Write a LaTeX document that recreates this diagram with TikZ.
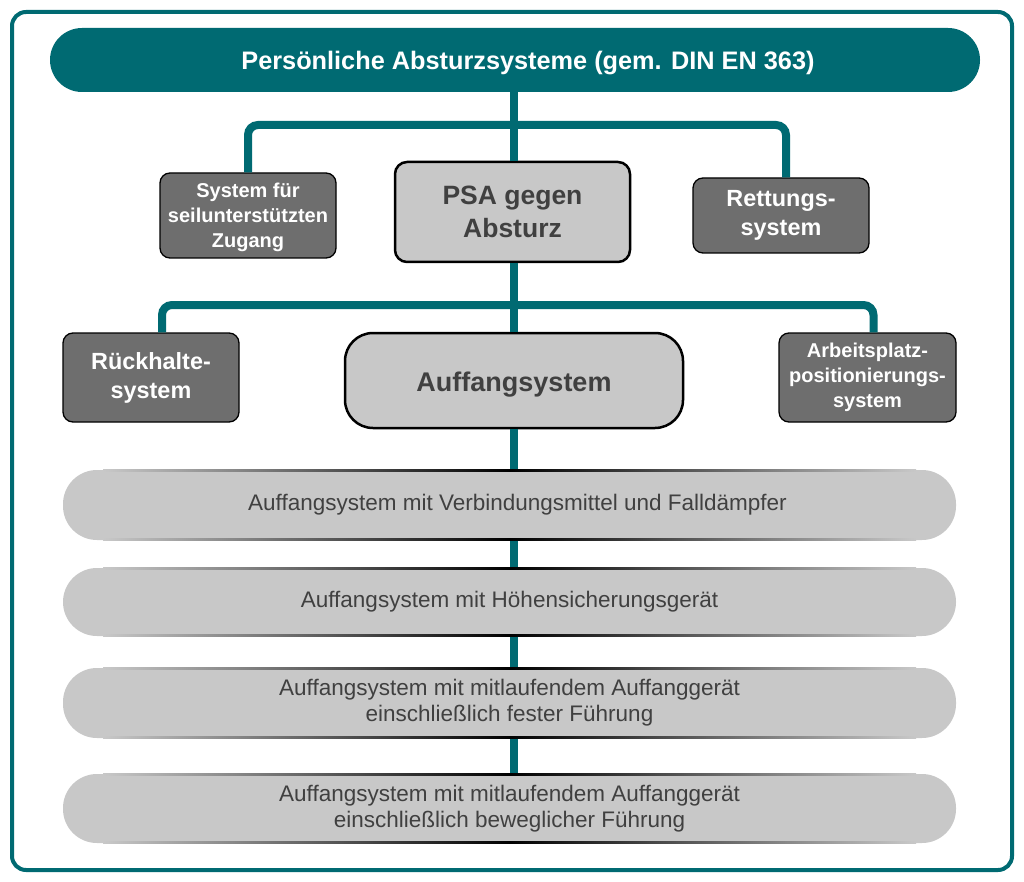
\documentclass[tikz,border=0pt]{standalone}
\usepackage{fontspec}
\setmainfont{Liberation Sans}
\definecolor{teal}{HTML}{006A72}
\definecolor{dgray}{HTML}{6E6E6E}
\definecolor{lgray}{HTML}{C8C8C8}
\definecolor{tgray}{HTML}{404040}
\tikzset{
  conn/.style={draw=teal, line width=8pt, rounded corners=10pt},
  darkbox/.style={draw=black, line width=1.3pt, fill=dgray, rounded corners=10pt, text=white, font=\fontsize{20}{25}\selectfont\bfseries, align=center, inner sep=0pt},
  mainbox/.style={draw=black, line width=2.5pt, fill=lgray, text=tgray, font=\fontsize{26.5}{33}\selectfont\bfseries, align=center, inner sep=0pt},
  pill/.style={fill=lgray, rounded corners=34pt, text=tgray, font=\fontsize{22.5}{26}\selectfont, align=center, inner sep=0pt},
}
\newcommand{\pilledge}[3]{%
  \shade[left color=lgray, right color=lgray, middle color=black] (#1+40,#2-0.9) rectangle (#3-40,#2+0.9);}
\begin{document}
\begin{tikzpicture}[x=1pt,y=-1pt]
\useasboundingbox (0,0) rectangle (1024,882);
\fill[white] (0,0) rectangle (1024,882);
% outer frame
\draw[teal, line width=4pt, rounded corners=14pt] (12,12) rectangle (1012,870);
% top bar
\node[fill=teal, rounded corners=32pt, minimum width=930pt, minimum height=64pt, inner sep=0pt] (top) at (515,60) {};
\node[text=white, font=\fontsize{25.3}{30}\selectfont\bfseries, inner sep=0pt] (title) at (528,63) {Persönliche Absturzsysteme (gem. DIN EN 363)};
% boxes
\node[darkbox, minimum width=176pt, minimum height=85pt] (seil) at (248,215.5) {\raisebox{-2pt}[\height][\depth]{\begin{tabular}{@{}c@{}}System für\\seilunterstützten\\Zugang\end{tabular}}};
\node[mainbox, rounded corners=12pt, minimum width=235pt, minimum height=100pt] (psa) at (512.5,212) {PSA gegen\\Absturz};
\node[darkbox, font=\fontsize{23.4}{29}\selectfont\bfseries, minimum width=176pt, minimum height=75pt] (rett) at (781,215.5) {Rettungs-\\system};
\node[darkbox, font=\fontsize{23.4}{29}\selectfont\bfseries, minimum width=176pt, minimum height=89pt] (rueck) at (151,377.5) {Rückhalte-\\system};
\node[mainbox, rounded corners=28pt, minimum width=338pt, minimum height=95pt, font=\fontsize{27}{33}\selectfont\bfseries] (auff) at (514,380.5) {\raisebox{-4pt}[\height][\depth]{Auffangsystem}};
\node[darkbox, minimum width=177pt, minimum height=89pt] (arb) at (867.5,377.5) {Arbeitsplatz-\\positionierungs-\\system};
% pills
\node[pill, minimum width=893pt, minimum height=70pt] (p1) at (509.5,505) {\hspace*{16pt}Auffangsystem mit Verbindungsmittel und Falldämpfer};
\node[pill, minimum width=893pt, minimum height=68pt] (p2) at (509.5,602) {Auffangsystem mit Höhensicherungsgerät};
\node[pill, minimum width=893pt, minimum height=70pt] (p3) at (509.5,703) {Auffangsystem mit mitlaufendem Auffanggerät\\einschließlich fester Führung};
\node[pill, minimum width=893pt, minimum height=69pt] (p4) at (509.5,808.5) {Auffangsystem mit mitlaufendem Auffanggerät\\einschließlich beweglicher Führung};
% connectors
\coordinate (jt) at (514,125);
\coordinate (jb) at (514,305);
\draw[conn] (top.south -| jt) -- (psa.north -| jt);
\draw[conn] (seil.north) |- (jt) -| ([xshift=5pt]rett.north);
\draw[conn] (psa.south -| jt) -- (auff.north -| jt);
\draw[conn] ([xshift=11pt]rueck.north) |- (jb) -| ([xshift=6pt]arb.north);
\draw[conn] (auff.south -| jt) -- (p1.north -| jt);
\draw[conn] (p1.south -| jt) -- (p2.north -| jt);
\draw[conn] (p2.south -| jt) -- (p3.north -| jt);
\draw[conn] (p3.south -| jt) -- (p4.north -| jt);
% pill edges
\pilledge{63}{470.5}{956}
\pilledge{63}{539.5}{956}
\pilledge{63}{568.5}{956}
\pilledge{63}{635.5}{956}
\pilledge{63}{668.5}{956}
\pilledge{63}{737.5}{956}
\pilledge{63}{774.5}{956}
\pilledge{63}{842.5}{956}
\end{tikzpicture}
\end{document}
